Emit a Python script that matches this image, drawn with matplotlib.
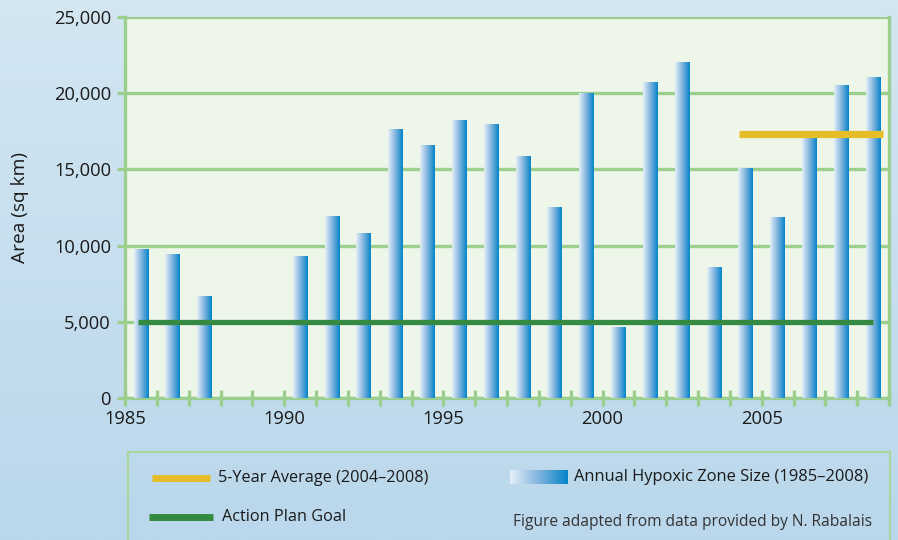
import matplotlib
matplotlib.use("Agg")
import matplotlib.pyplot as plt
from matplotlib.colors import LinearSegmentedColormap
from matplotlib.patches import Rectangle
from matplotlib.ticker import FuncFormatter
import numpy as np

plt.rcParams['font.family'] = ['Open Sans', 'DejaVu Sans']

years = [1985, 1986, 1987, 1990, 1991, 1992, 1993, 1994, 1995, 1996, 1997,
         1998, 1999, 2000, 2001, 2002, 2003, 2004, 2005, 2006, 2007, 2008]
areas = [9770, 9440, 6680, 9260, 11920, 10800, 17600, 16600, 18200, 17920,
         15840, 12480, 20000, 4600, 20720, 22000, 8560, 15040, 11840, 17200,
         20500, 21000]
goal = 5000
goal_span = [1985.4, 2008.5]
avg5 = 17300
avg_span = [2004.3, 2008.8]
year_labels = [1985, 1990, 1995, 2000, 2005]
y_ticks = [0, 5000, 10000, 15000, 20000, 25000]

green_grid = '#9ccf8e'
bar_cmap = LinearSegmentedColormap.from_list('bar', ['#e4eff8', '#7fb3de', '#0584c8'])
bg_cmap = LinearSegmentedColormap.from_list('bg', ['#bad7eb', '#d3e6f2'])

fig = plt.figure(figsize=(8.98, 5.4), dpi=100)

# background gradient
bg = fig.add_axes([0, 0, 1, 1], zorder=-5)
bg.imshow(np.linspace(0, 1, 256)[:, None], cmap=bg_cmap, aspect='auto',
          origin='lower', extent=[0, 1, 0, 1])
bg.axis('off')

ax = fig.add_axes([125/898, 1-398/540, 764/898, 381/540])
ax.set_facecolor('#eef6ea')

bars = ax.bar([y + 0.5 for y in years], areas, width=0.46, color='none', zorder=3)
grad = np.linspace(0, 1, 64)[None, :]
for b in bars:
    x0 = b.get_x()
    ax.imshow(grad, cmap=bar_cmap, aspect='auto',
              extent=[x0, x0 + b.get_width(), 0, b.get_height()], zorder=3)

ax.plot(goal_span, [goal, goal], color='#358a42', lw=3.8, solid_capstyle='butt', zorder=4)
ax.plot(avg_span, [avg5, avg5], color='#e5bd29', lw=5.2, solid_capstyle='butt', zorder=4)

ax.set_xlim(1985, 2009)
ax.set_ylim(0, 25000)
ax.set_xticks(year_labels)
ax.set_xticks(range(1985, 2010), minor=True)
ax.set_yticks(y_ticks)
ax.yaxis.set_major_formatter(FuncFormatter(lambda v, p: f'{int(v):,}'))
ax.yaxis.grid(True, color=green_grid, lw=2.4, zorder=1)
ax.set_axisbelow(True)

for s in ['left', 'bottom', 'right']:
    ax.spines[s].set_color(green_grid)
    ax.spines[s].set_linewidth(2.4)
ax.spines['top'].set_visible(False)

ax.tick_params(axis='y', length=6, width=2.4, color=green_grid, labelsize=13.2,
               labelcolor='#1a1a1a', pad=4)
ax.tick_params(axis='x', which='both', direction='inout', length=12, width=2.4,
               color=green_grid, labelsize=13.2, labelcolor='#1a1a1a', pad=3)
ax.set_ylabel('Area (sq km)', fontsize=13.8, color='#1a1a1a', labelpad=18)

# legend box
fig.patches.append(Rectangle((128/898, -0.05), 762/898, 0.05 + (540-452)/540,
                             transform=fig.transFigure, facecolor='none',
                             edgecolor='#a8d5a0', lw=1.6, zorder=2))
fig.add_artist(plt.Line2D([152/898, 210/898], [1-478/540]*2, color='#e5bd29',
                          lw=5, solid_capstyle='butt'))
fig.text(218/898, 1-478/540, '5-Year Average (2004\u20132008)', fontsize=11.7,
         va='center', color='#1a1a1a')
fig.add_artist(plt.Line2D([149/898, 213/898], [1-517/540]*2, color='#358a42',
                          lw=5, solid_capstyle='butt'))
fig.text(222/898, 1-517/540, 'Action Plan Goal', fontsize=11.7, va='center',
         color='#1a1a1a')
lg = fig.add_axes([510/898, 1-484/540, 58/898, 14/540])
lg.imshow(grad, cmap=bar_cmap, aspect='auto')
lg.axis('off')
fig.text(574/898, 1-477/540, 'Annual Hypoxic Zone Size (1985\u20132008)', fontsize=11.9,
         va='center', color='#1a1a1a')
fig.text(872/898, 1-522/540, 'Figure adapted from data provided by N. Rabalais',
         fontsize=11.2, va='center', ha='right', color='#333333')

fig.savefig('out.png', dpi=100)
